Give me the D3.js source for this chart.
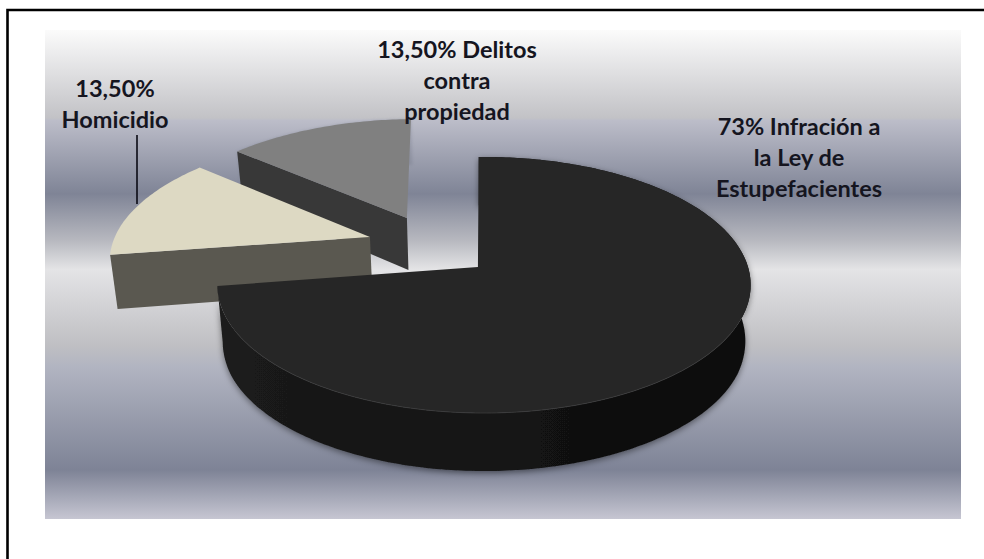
<!DOCTYPE html>
<html>
<head>
<meta charset="utf-8">
<script src="https://cdn.jsdelivr.net/npm/d3@7"></script>
<style>
html,body{margin:0;padding:0;background:#fff;}
svg{display:block;}
</style>
</head>
<body>
<div id="chart"></div>
<script>
// Data
const categories = ["Infracción a la Ley de Estupefacientes", "Homicidio", "Delitos contra propiedad"];
const values = [73, 13.5, 13.5];
const labelLines = [
  ["73% Infración a", "la Ley de", "Estupefacientes"],
  ["13,50%", "Homicidio"],
  ["13,50% Delitos", "contra", "propiedad"]
];
// Presentation
const topColors = ["#262626", "#ddd9c3", "#808080"];
const wallColors = ["#161616", "#5a5850", "#383838"];
const explodeU = [0, -0.447, -0.309];
const explodeV = [0, -0.247, -0.413];
const labelX = [799, 115, 457];
const labelY = [135, 97, 58];
const bgOffsets = [0, 0.18, 0.185, 0.335, 0.43, 0.49, 0.645, 0.69, 0.90, 1];
const bgColors = ["#fbfbfb", "#c2c2c6", "#bcbdc9", "#7f8496", "#b7b8bf", "#e4e4e6", "#bfbfc3", "#b1b4c1", "#7e8396", "#c6c6d2"];

const W = 984, H = 559;
const svg = d3.select("#chart").append("svg").attr("width", W).attr("height", H);
const defs = svg.append("defs");

const bg = defs.append("linearGradient").attr("id", "bg").attr("x1", 0).attr("x2", 0).attr("y1", 0).attr("y2", 1);
bg.selectAll("stop").data(bgOffsets).join("stop")
  .attr("offset", d => d).attr("stop-color", (d, i) => bgColors[i]);

const wallGrad = defs.append("linearGradient").attr("id", "wall0").attr("x1", 0).attr("x2", 1).attr("y1", 0).attr("y2", 0);
wallGrad.append("stop").attr("offset", 0).attr("stop-color", "#1b1b1b");
wallGrad.append("stop").attr("offset", 1).attr("stop-color", "#0c0c0c");

const shadow = defs.append("filter").attr("id", "soft")
  .attr("x", "-10%").attr("y", "-10%").attr("width", "120%").attr("height", "120%");
shadow.append("feDropShadow").attr("dx", 0).attr("dy", 2).attr("stdDeviation", 3)
  .attr("flood-color", "#000").attr("flood-opacity", 0.45);
const blur = defs.append("filter").attr("id", "blur")
  .attr("x", "-10%").attr("y", "-10%").attr("width", "120%").attr("height", "120%");
blur.append("feGaussianBlur").attr("stdDeviation", 1.5);

// frame and panel
svg.append("rect").attr("x", 45).attr("y", 30).attr("width", 916).attr("height", 489).attr("fill", "url(#bg)");
svg.append("path").attr("d", `M7.5 ${H}V10H${W}`).attr("fill", "none").attr("stroke", "#000").attr("stroke-width", 2.6);

// projection of the tilted pie plane onto the screen
const cx = 484, cy = 267, A = 125.5, B = 264, persp = 0.1406;
const project = (u, v) => {
  const den = 1 - persp * v;
  return [cx + B * u / den, cy + A * v / den, den];
};
const below = ([x, y, den]) => [cx + (x - cx) * 0.98, y + Math.min(58, 55 / den), den];

const rotation = -1.3 * Math.PI / 180;
const pie = d3.pie().sort(null).startAngle(rotation).endAngle(2 * Math.PI + rotation);
const arcs = pie(values);
const line = d3.line().x(p => p[0]).y(p => p[1]);

const slices = arcs.map((a, i) => {
  const eu = explodeU[i], ev = explodeV[i];
  const n = Math.ceil((a.endAngle - a.startAngle) * 60);
  const rim = d3.range(n + 1).map(k => {
    const t = a.startAngle + (a.endAngle - a.startAngle) * k / n;
    return project(eu + Math.sin(t), ev - Math.cos(t));
  });
  const apex = i === 0 ? project(-0.023, 0) : project(eu, ev);
  return {i, rim, apex};
});

const g = svg.append("g");
// back to front: gray, cream, black
[2, 1, 0].forEach(i => {
  const s = slices[i];
  const sg = g.append("g");
  const rimLow = s.rim.map(below);
  const wallPath = line(s.rim.concat(rimLow.slice().reverse())) + "Z";
  if (i === 0) {
    sg.append("path").attr("d", wallPath).attr("fill", "url(#wall0)").attr("filter", "url(#soft)");
  } else {
    if (i === 2) {
      // only the soft shade of the hidden outer wall shows
      sg.append("path").attr("d", wallPath).attr("fill", "#6d7282").attr("opacity", 0.3).attr("filter", "url(#blur)");
    }
    // visible cut face: from the apex to the first rim point
    const corner = s.rim[0];
    sg.append("path")
      .attr("d", line([s.apex, corner, below(corner), below(s.apex)]) + "Z")
      .attr("fill", wallColors[i]);
  }
  // top face
  sg.append("path")
    .attr("d", line(s.rim.concat([s.apex])) + "Z")
    .attr("fill", topColors[i]);
  if (i === 0) {
    const front = s.rim.filter(p => p[1] > 330);
    sg.append("path").attr("d", line(front)).attr("fill", "none")
      .attr("stroke", "#3c3c3c").attr("stroke-width", 0.8);
  }
});

// leader line
svg.append("line").attr("x1", 137).attr("x2", 137).attr("y1", 135).attr("y2", 204)
  .attr("stroke", "#0a0a14").attr("stroke-width", 1.6);

// labels
labelLines.forEach((lines, i) => {
  svg.append("g").selectAll("text").data(lines).join("text")
    .attr("x", labelX[i])
    .attr("y", (d, k) => labelY[i] + k * 31)
    .attr("text-anchor", "middle")
    .attr("font-family", "Lato, 'Open Sans', sans-serif")
    .attr("font-weight", 700)
    .attr("font-size", 23.5)
    .attr("fill", "#15151f")
    .text(d => d);
});
</script>
</body>
</html>
